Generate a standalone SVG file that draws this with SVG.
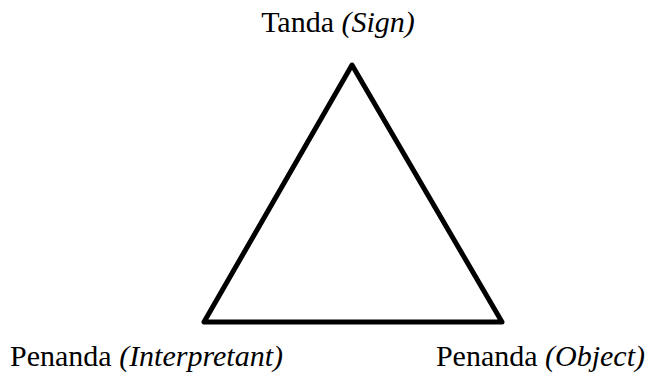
<svg xmlns="http://www.w3.org/2000/svg" width="651" height="376" viewBox="0 0 651 376">
<style>
text{font-family:"Liberation Serif","Times New Roman",serif;font-size:30px;fill:#000}
.i{font-style:italic}
.edge{fill:none;stroke:#000;stroke-width:5;stroke-linejoin:round}
</style>
<rect width="651" height="376" fill="#fff"/>
<g id="connectors">
<polygon class="edge" points="352,65 204,322 502,322"/>
</g>
<g id="sign"><text x="338" y="32" text-anchor="middle">Tanda <tspan class="i">(Sign)</tspan></text></g>
<g id="interpretant"><text x="10" y="366">Penanda <tspan class="i">(Interpretant)</tspan></text></g>
<g id="object"><text x="645" y="366" text-anchor="end">Penanda <tspan class="i">(Object)</tspan></text></g>
</svg>
